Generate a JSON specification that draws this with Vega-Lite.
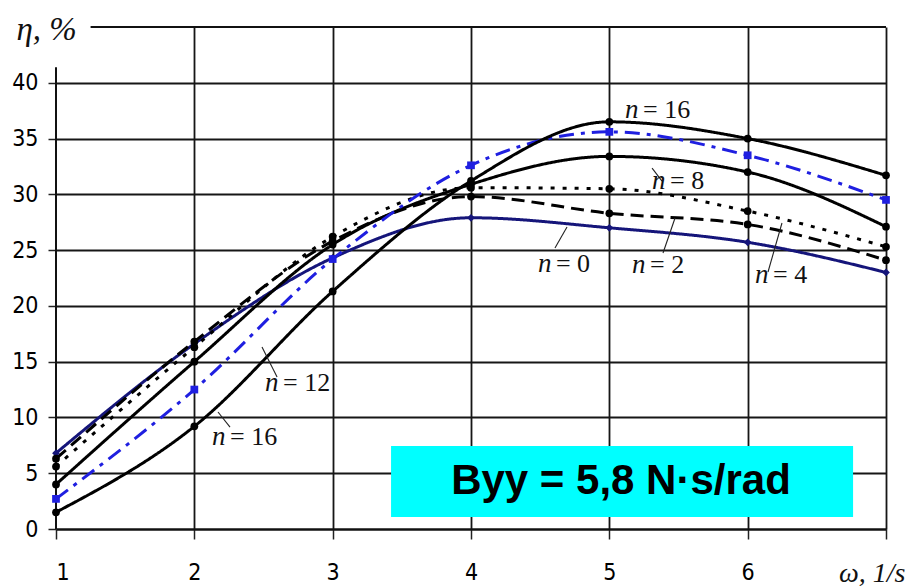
{
  "$schema": "https://vega.github.io/schema/vega-lite/v6.json",
  "width": 830,
  "height": 502,
  "autosize": {"type": "none"},
  "padding": {"left": 56, "top": 27, "right": 24, "bottom": 57},
  "background": "#ffffff",
  "config": {"view": {"stroke": null}},
  "datasets": {
    "curves": [
      {"s": "n0", "x": 1, "y": 6.8}, {"s": "n0", "x": 2, "y": 16.6}, {"s": "n0", "x": 3, "y": 24.3}, {"s": "n0", "x": 4, "y": 27.9}, {"s": "n0", "x": 5, "y": 27.0}, {"s": "n0", "x": 6, "y": 25.7}, {"s": "n0", "x": 7, "y": 23.0},
      {"s": "n2", "x": 1, "y": 6.3}, {"s": "n2", "x": 2, "y": 16.8}, {"s": "n2", "x": 3, "y": 25.8}, {"s": "n2", "x": 4, "y": 29.8}, {"s": "n2", "x": 5, "y": 28.3}, {"s": "n2", "x": 6, "y": 27.3}, {"s": "n2", "x": 7, "y": 24.1},
      {"s": "n4", "x": 1, "y": 5.6}, {"s": "n4", "x": 2, "y": 16.3}, {"s": "n4", "x": 3, "y": 26.2}, {"s": "n4", "x": 4, "y": 30.6}, {"s": "n4", "x": 5, "y": 30.5}, {"s": "n4", "x": 6, "y": 28.5}, {"s": "n4", "x": 7, "y": 25.3},
      {"s": "n8", "x": 1, "y": 4.0}, {"s": "n8", "x": 2, "y": 15.0}, {"s": "n8", "x": 3, "y": 25.5}, {"s": "n8", "x": 4, "y": 30.9}, {"s": "n8", "x": 5, "y": 33.4}, {"s": "n8", "x": 6, "y": 32.0}, {"s": "n8", "x": 7, "y": 27.1},
      {"s": "n12", "x": 1, "y": 2.7}, {"s": "n12", "x": 2, "y": 12.5}, {"s": "n12", "x": 3, "y": 24.2}, {"s": "n12", "x": 4, "y": 32.6}, {"s": "n12", "x": 5, "y": 35.6}, {"s": "n12", "x": 6, "y": 33.5}, {"s": "n12", "x": 7, "y": 29.5},
      {"s": "n16", "x": 1, "y": 1.5}, {"s": "n16", "x": 2, "y": 9.2}, {"s": "n16", "x": 3, "y": 21.3}, {"s": "n16", "x": 4, "y": 31.2}, {"s": "n16", "x": 5, "y": 36.5}, {"s": "n16", "x": 6, "y": 35.0}, {"s": "n16", "x": 7, "y": 31.7}
    ],
    "labels": [
      {"x": 5.113, "y": 37.56, "t": "= 16"},
      {"x": 5.309, "y": 31.19, "t": "= 8"},
      {"x": 5.164, "y": 23.66, "t": "= 2"},
      {"x": 6.053, "y": 22.77, "t": "= 4"},
      {"x": 4.484, "y": 23.75, "t": "= 0"},
      {"x": 2.511, "y": 13.09, "t": "= 12"},
      {"x": 2.128, "y": 8.25, "t": "= 16"}
    ],
    "leaders": [
      {"x": 5.309, "y": 32.35, "x2": 5.381, "y2": 31.18},
      {"x": 4.694, "y": 27.07, "x2": 4.607, "y2": 25.19},
      {"x": 5.475, "y": 27.88, "x2": 5.388, "y2": 24.74},
      {"x": 6.248, "y": 27.43, "x2": 6.147, "y2": 23.04},
      {"x": 2.489, "y": 16.31, "x2": 2.598, "y2": 13.62},
      {"x": 2.171, "y": 10.49, "x2": 2.258, "y2": 9.14}
    ],
    "frame": [
      {"x": 1.25, "y": 45, "x2": 7, "y2": 45},
      {"x": 1, "y": 0, "x2": 1, "y2": 41.4}
    ],
    "box": [
      {"x": 3.422, "y": 7.44, "x2": 6.762, "y2": 1.08}
    ],
    "boxtext": [
      {"x": 5.084, "y": 4.3, "t": "Byy = 5,8 N·s/rad"}
    ]
  },
  "encoding": {
    "x": {
      "field": "x", "type": "quantitative",
      "scale": {"domain": [1, 7], "nice": false, "zero": false},
      "axis": {
        "values": [1, 2, 3, 4, 5, 6, 7],
        "labelExpr": "datum.value == 7 ? '' : datum.label",
        "grid": true, "gridColor": "#161616", "gridWidth": 1.8,
        "gridOpacity": {"condition": {"test": "datum.value == 1", "value": 0}, "value": 1},
        "domain": true, "domainColor": "#111111", "domainWidth": 2,
        "ticks": true, "tickSize": 10, "tickColor": "#222222", "tickWidth": 1.5,
        "labelFont": "Liberation Sans Narrow, DejaVu Sans Condensed, Liberation Sans",
        "labelFontSize": 23, "labelColor": "#000000", "labelPadding": 22,
        "title": "ω, 1/s", "titleFont": "Liberation Serif", "titleFontStyle": "italic",
        "titleFontWeight": "normal", "titleFontSize": 28, "titleColor": "#111111",
        "titleX": 849, "titleY": 44, "titleAlign": "right", "titleBaseline": "middle", "titleAnchor": "end"
      }
    },
    "y": {
      "field": "y", "type": "quantitative",
      "scale": {"domain": [0, 45], "nice": false, "zero": false},
      "axis": {
        "values": [0, 5, 10, 15, 20, 25, 30, 35, 40],
        "grid": true, "gridColor": "#161616", "gridWidth": 1.8,
        "domain": false,
        "ticks": true, "tickSize": 8, "tickColor": "#222222", "tickWidth": 1.5,
        "labelFont": "Liberation Sans Narrow, DejaVu Sans Condensed, Liberation Sans",
        "labelFontSize": 23, "labelColor": "#000000", "labelPadding": 10,
        "title": "η, %", "titleFont": "Liberation Serif", "titleFontStyle": "italic",
        "titleFontWeight": "normal", "titleFontSize": 33, "titleColor": "#111111",
        "titleAngle": 0, "titleX": -40, "titleY": 2, "titleAlign": "left", "titleBaseline": "middle", "titleAnchor": "end"
      }
    }
  },
  "layer": [
    {
      "data": {"name": "frame"},
      "mark": {"type": "rule", "color": "#111111", "strokeWidth": 2},
      "encoding": {"x2": {"field": "x2"}, "y2": {"field": "y2"}}
    },
    {
      "data": {"name": "curves"},
      "mark": {"type": "line", "interpolate": "monotone", "strokeWidth": 3, "strokeCap": "butt"},
      "encoding": {
        "color": {"field": "s", "type": "nominal", "legend": null,
          "scale": {"domain": ["n0", "n2", "n4", "n8", "n12", "n16"], "range": ["#15157a", "#000000", "#000000", "#000000", "#1f1fe0", "#000000"]}},
        "strokeDash": {"field": "s", "type": "nominal", "legend": null,
          "scale": {"domain": ["n0", "n2", "n4", "n8", "n12", "n16"], "range": [[1, 0], [13, 7], [4, 8], [1, 0], [15, 7, 4, 7], [1, 0]]}}
      }
    },
    {
      "data": {"name": "curves"},
      "mark": {"type": "point", "filled": true, "opacity": 1},
      "encoding": {
        "color": {"field": "s", "type": "nominal", "legend": null,
          "scale": {"domain": ["n0", "n2", "n4", "n8", "n12", "n16"], "range": ["#15157a", "#000000", "#000000", "#000000", "#1f1fe0", "#000000"]}},
        "shape": {"field": "s", "type": "nominal", "legend": null,
          "scale": {"domain": ["n0", "n2", "n4", "n8", "n12", "n16"], "range": ["diamond", "circle", "circle", "circle", "square", "circle"]}},
        "size": {"field": "s", "type": "nominal", "legend": null,
          "scale": {"domain": ["n0", "n2", "n4", "n8", "n12", "n16"], "range": [60, 60, 90, 60, 150, 70]}}
      }
    },
    {
      "data": {"name": "leaders"},
      "mark": {"type": "rule", "color": "#222222", "strokeWidth": 1.1},
      "encoding": {"x2": {"field": "x2"}, "y2": {"field": "y2"}}
    },
    {
      "data": {"name": "labels"},
      "mark": {"type": "text", "font": "Liberation Serif", "fontStyle": "italic", "fontSize": 27, "align": "left", "baseline": "middle", "color": "#111111"},
      "encoding": {"text": {"value": "n"}}
    },
    {
      "data": {"name": "labels"},
      "mark": {"type": "text", "font": "Liberation Serif", "fontSize": 26, "align": "left", "baseline": "middle", "dx": 18, "color": "#111111"},
      "encoding": {"text": {"field": "t"}}
    },
    {
      "data": {"name": "box"},
      "mark": {"type": "rect", "color": "#00ffff", "opacity": 1},
      "encoding": {"x2": {"field": "x2"}, "y2": {"field": "y2"}}
    },
    {
      "data": {"name": "boxtext"},
      "mark": {"type": "text", "font": "Liberation Sans", "fontWeight": "bold", "fontSize": 42, "align": "center", "baseline": "middle", "color": "#000000"},
      "encoding": {"text": {"field": "t"}}
    }
  ]
}
